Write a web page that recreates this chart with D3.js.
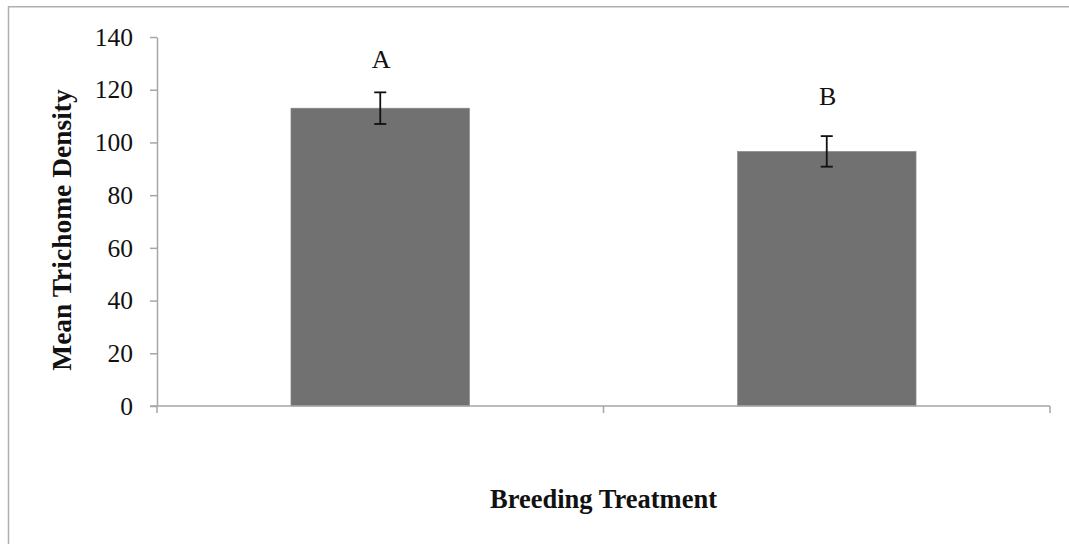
<!DOCTYPE html>
<html><head><meta charset="utf-8">
<script src="https://cdn.jsdelivr.net/npm/d3@7"></script>
<style>body{margin:0;background:#fff}svg{display:block}</style>
</head><body>
<svg id="c" width="1069" height="544"></svg>
<script>
const categories = ["Treatment A", "Treatment B"];
const means = [113, 96.6];
const errors = [6.0, 5.8];
const letters = ["A", "B"];
const letterValues = [128.2, 114.2];
const yTicks = [0, 20, 40, 60, 80, 100, 120, 140];
const yTitle = "Mean Trichome Density";
const xTitle = "Breeding Treatment";

const svg = d3.select("#c");
const W = 1069, H = 544;
const m = {left: 157, right: 1050, top: 37, bottom: 406};
const font = "'Liberation Serif','Times New Roman',serif";
const axisColor = "#a6a6a6";

// outer frame
svg.append("path").attr("d", `M8.5,${H+2} V6.75 H${W+2}`)
  .attr("fill","none").attr("stroke","#b0b0b0").attr("stroke-width",1.5);

const x = d3.scaleBand().domain(categories).range([m.left, m.right]).paddingInner(0.6).paddingOuter(0.3);
const xOuter = d3.scaleBand().domain(categories).range([m.left, m.right]);
const y = d3.scaleLinear().domain([0, 140]).range([m.bottom, m.top]);

// bars
svg.selectAll("rect.bar").data(categories).join("rect")
  .attr("x", d => x(d)).attr("width", x.bandwidth())
  .attr("y", (d,i) => y(means[i])).attr("height", (d,i) => y(0) - y(means[i]))
  .attr("fill", "#717171").attr("stroke","#8a8a8a").attr("stroke-width",0.6);

// y axis
const yAxis = d3.axisLeft(y).tickValues(yTicks).tickSize(7).tickPadding(17).tickSizeOuter(0);
const gy = svg.append("g").attr("transform", `translate(${m.left},0)`).call(yAxis);
gy.select(".domain").attr("stroke", axisColor).attr("stroke-width",1.5);
gy.selectAll(".tick line").attr("stroke", axisColor).attr("stroke-width",1.5);
gy.selectAll(".tick text").attr("font-family", font).attr("font-size", 25.5).attr("fill","#111");

// x axis with ticks at band boundaries
const gx = svg.append("g").attr("transform", `translate(0,${m.bottom})`);
gx.append("line").attr("x1", m.left - 7).attr("x2", m.right).attr("y1",0).attr("y2",0)
  .attr("stroke", axisColor).attr("stroke-width",1.5);
const bounds = categories.map(d => xOuter(d)).concat([xOuter(categories[categories.length-1]) + xOuter.bandwidth()]);
gx.selectAll("line.t").data(bounds).join("line")
  .attr("x1", d => d).attr("x2", d => d).attr("y1", 0).attr("y2", 7)
  .attr("stroke", axisColor).attr("stroke-width",1.5);

// error bars
const eb = svg.append("g").attr("stroke","#111").attr("stroke-width",1.8);
categories.forEach((d,i) => {
  const cx = x(d) + x.bandwidth()/2;
  const top = y(means[i] + errors[i]), bot = y(means[i] - errors[i]);
  eb.append("line").attr("x1",cx).attr("x2",cx).attr("y1",top).attr("y2",bot);
  eb.append("line").attr("x1",cx-6).attr("x2",cx+6).attr("y1",top).attr("y2",top);
  eb.append("line").attr("x1",cx-6).attr("x2",cx+6).attr("y1",bot).attr("y2",bot);
});

// letters
svg.selectAll("text.letter").data(categories).join("text")
  .attr("x", d => x(d) + x.bandwidth()/2 + 1)
  .attr("y", (d,i) => y(letterValues[i]))
  .attr("text-anchor","middle").attr("font-family",font).attr("font-size",26).attr("fill","#111")
  .text((d,i) => letters[i]);

// titles
svg.append("text").attr("x", (m.left + m.right)/2).attr("y", 508)
  .attr("text-anchor","middle").attr("font-family",font).attr("font-weight","bold").attr("font-size",26.5)
  .attr("fill","#111").text(xTitle);
svg.append("text").attr("transform", "translate(71,230) rotate(-90)")
  .attr("text-anchor","middle").attr("font-family",font).attr("font-weight","bold").attr("font-size",27.5)
  .attr("fill","#111").text(yTitle);
</script>
</body></html>
